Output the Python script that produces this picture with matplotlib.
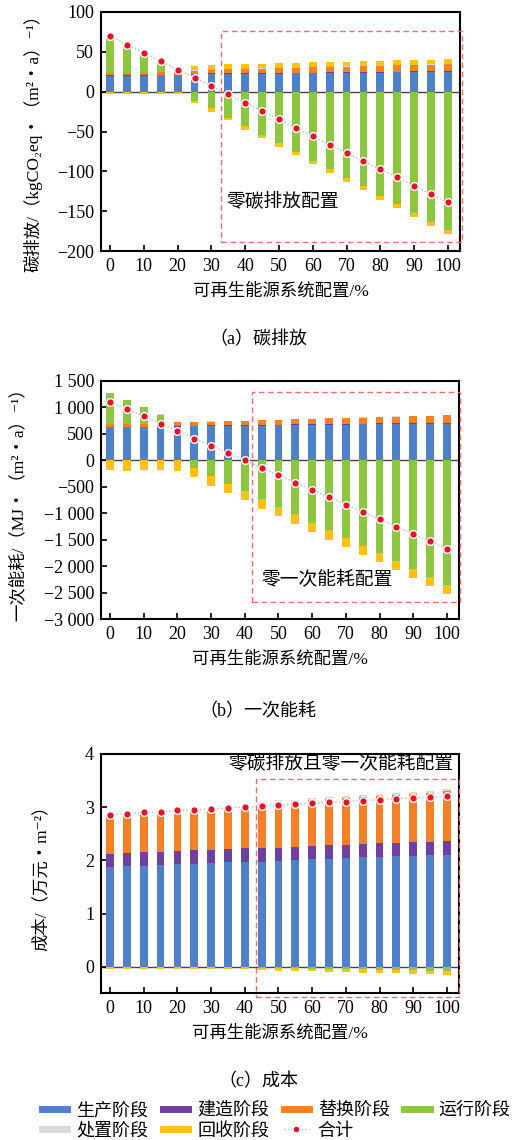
import numpy as np
import matplotlib.pyplot as plt
from matplotlib.lines import Line2D
from matplotlib.patches import Rectangle
from matplotlib.ticker import FuncFormatter

plt.rcParams['font.family'] = ['Liberation Serif', 'Noto Sans CJK SC', 'DejaVu Sans']
plt.rcParams['axes.unicode_minus'] = True

# renewable system share, %
x = [0, 5, 10, 15, 20, 25, 30, 35, 40, 45, 50, 55, 60, 65, 70, 75, 80, 85, 90, 95, 100]

# (a) carbon emission, kgCO2eq/(m2*a)
a_prod = [20, 20, 20, 20.5, 20.5, 21.5, 22, 22, 22.5, 22.5, 22.7, 23, 23, 23.3, 23.5, 23.7, 24, 24.2, 24.4, 24.6, 24.8]
a_build = [1, 1, 1, 1, 1, 1, 1, 1, 1, 1, 1, 1, 1, 1, 1, 1, 1, 1, 1, 1, 1]
a_repl = [3, 3, 3, 3.2, 3.5, 4, 4.5, 5, 5, 5.5, 6, 6, 6.5, 6.5, 7, 7, 7.5, 8, 8, 8.5, 9]
a_oper = [43, 31.5, 22, 11.3, 2, -11.8, -21, -32.8, -43, -53.8, -65, -75.6, -86.5, -97, -108, -119, -130.7, -140.8, -151.7, -163, -174]
a_disp = [0.3, 0.3, 0.3, 0.3, 0.3, 0.3, 0.3, 0.3, 0.3, 0.3, 0.3, 0.3, 0.3, 0.3, 0.3, 0.3, 0.3, 0.3, 0.3, 0.3, 0.3]
a_recy_up = [2, 2, 2, 2, 2, 6, 6, 6, 6, 6, 6, 6, 6, 6, 6, 6, 6, 5.8, 5.6, 5.5, 5.5]
a_recy_dn = [-3.5, -3.5, -3.5, -3.5, -3.5, -2.9, -4, -3.2, -4.5, -4.2, -4, -4.4, -4.2, -5, -5, -5, -5, -5.2, -5.9, -5.5, -5]
a_total = [70, 59, 48.7, 38, 27.7, 17.6, 7, -3.4, -13.9, -24.4, -34.9, -45.4, -55.9, -66.4, -76.9, -87.4, -97.5, -107.6, -118, -128.6, -138.7]

# (b) primary energy, MJ/(m2*a)
b_prod = [620, 620, 620, 625, 625, 640, 645, 648, 650, 655, 658, 662, 665, 668, 672, 675, 678, 682, 685, 688, 692]
b_build = [15, 15, 15, 15, 15, 15, 15, 15, 15, 15, 15, 15, 15, 15, 15, 15, 15, 15, 15, 15, 15]
b_repl = [50, 50, 50, 50, 75, 70, 70, 75, 80, 85, 90, 95, 100, 105, 110, 115, 120, 125, 130, 135, 140]
b_oper = [585, 447, 315, 172, 0, -145, -302, -440, -585, -730, -874, -1019, -1176, -1321, -1466, -1610, -1749, -1900, -2050, -2202, -2346]
b_disp = [3, 3, 3, 3, 3, 3, 3, 3, 3, 3, 3, 3, 3, 3, 3, 3, 3, 3, 3, 3, 3]
b_recy = [-176, -195, -176, -176, -195, -170, -176, -176, -170, -182, -183, -182, -170, -176, -176, -176, -169, -176, -177, -176, -176]
b_total = [1100, 962, 830, 692, 553, 409, 277, 132, 0, -145, -283, -421, -560, -692, -837, -975, -1113, -1252, -1390, -1528, -1667]

# (c) cost, 10^4 CNY/m2
c_prod = [1.875, 1.89, 1.90, 1.91, 1.925, 1.94, 1.95, 1.96, 1.975, 1.975, 1.99, 2.0, 2.02, 2.03, 2.04, 2.056, 2.07, 2.075, 2.09, 2.10, 2.11]
c_build = [0.24, 0.24, 0.25, 0.25, 0.25, 0.25, 0.25, 0.25, 0.25, 0.25, 0.25, 0.25, 0.25, 0.25, 0.25, 0.25, 0.25, 0.25, 0.25, 0.25, 0.25]
c_repl = [0.70, 0.71, 0.72, 0.73, 0.74, 0.75, 0.75, 0.76, 0.77, 0.84, 0.85, 0.85, 0.86, 0.87, 0.88, 0.88, 0.89, 0.90, 0.91, 0.92, 0.94]
c_oper = [0, 0, 0, 0, 0, 0, 0, 0, 0, -0.02, -0.025, -0.03, -0.035, -0.04, -0.045, -0.05, -0.055, -0.06, -0.07, -0.075, -0.085]
c_disp = [0.04, 0.04, 0.04, 0.04, 0.04, 0.04, 0.04, 0.04, 0.04, 0.04, 0.04, 0.04, 0.04, 0.04, 0.04, 0.04, 0.04, 0.04, 0.04, 0.04, 0.04]
c_recy = [-0.04, -0.04, -0.04, -0.04, -0.04, -0.04, -0.04, -0.04, -0.04, -0.05, -0.05, -0.05, -0.055, -0.055, -0.055, -0.06, -0.06, -0.06, -0.06, -0.065, -0.065]
c_total = [2.86, 2.88, 2.90, 2.91, 2.94, 2.95, 2.97, 2.99, 3.0, 3.025, 3.04, 3.056, 3.075, 3.09, 3.106, 3.125, 3.14, 3.16, 3.175, 3.19, 3.21]

labels = ['生产阶段', '建造阶段', '替换阶段', '运行阶段', '处置阶段', '回收阶段', '合计']
c_blue, c_purple, c_orange, c_green = '#4F80CA', '#7040A0', '#F58026', '#8DC63F'
c_gray, c_yellow, c_red = '#D9D9D9', '#FFC20E', '#E8102A'

W, H = 516, 1140
fig = plt.figure(figsize=(W / 100, H / 100), dpi=100)
bw = 2.3
fs = 13


def stack(ax, prod, build, repl, oper, disp, recy_up, recy_dn, total):
    xs = np.array(x, float)
    oper = np.array(oper, float)
    pos = np.zeros(len(xs))
    neg = np.zeros(len(xs))
    for vals, col in [(prod, c_blue), (build, c_purple), (repl, c_orange),
                      (np.clip(oper, 0, None), c_green), (disp, c_gray), (recy_up, c_yellow)]:
        vals = np.array(vals, float)
        ax.bar(xs, vals, bw, bottom=pos, color=col, lw=0, zorder=2)
        pos += vals
    for vals, col in [(np.clip(oper, None, 0), c_green), (recy_dn, c_yellow)]:
        vals = np.array(vals, float)
        ax.bar(xs, vals, bw, bottom=neg, color=col, lw=0, zorder=2)
        neg += vals
    ax.axhline(0, color='#444444', lw=1.0, zorder=1)
    ax.plot(xs, total, ls=(0, (1, 1.5)), color='#BBBBBB', lw=1.0, zorder=3)
    ax.plot(xs, total, 'o', ms=5.5, mfc=c_red, mec='white', mew=1.0, zorder=4)
    ax.set_xlim(-2.7, 103.6)
    ax.set_xticks(range(0, 101, 10))
    ax.tick_params(direction='in', labelsize=fs, length=4, width=1.2, pad=5)
    for s in ax.spines.values():
        s.set_linewidth(1.5)
    ax.set_xlabel('可再生能源系统配置/%', fontsize=12.5, labelpad=6)


def box(ax, x0, y0, x1, y1):
    r = Rectangle((x0, y0), x1 - x0, y1 - y0, fill=False, ec='#F26B6B', ls=(0, (4, 2.5)),
                  lw=1.0, clip_on=False, zorder=5)
    ax.add_patch(r)


# (a)
ax1 = fig.add_axes([101 / W, 1 - 251 / H, 359 / W, 239 / H])
stack(ax1, a_prod, a_build, a_repl, a_oper, a_disp, a_recy_up, a_recy_dn, a_total)
ax1.set_ylim(-200, 100)
ax1.set_yticks([-200, -150, -100, -50, 0, 50, 100])
ax1.set_ylabel('碳排放/（kgCO₂eq・（m²・a）⁻¹）', fontsize=12.5)
ax1.yaxis.set_label_coords(-0.164, 0.47)
box(ax1, 32.8, -189, 104.3, 76.5)
ax1.text(34.5, -138, '零碳排放配置', fontsize=13.5, va='center', ha='left')
fig.text(258 / W, 1 - 340 / H, '（a）碳排放', fontsize=13, ha='center', va='center')

# (b)
ax2 = fig.add_axes([101 / W, 1 - 619.3 / H, 358 / W, 238.6 / H])
stack(ax2, b_prod, b_build, b_repl, b_oper, b_disp, [0] * 21, b_recy, b_total)
ax2.set_ylim(-3000, 1500)
ax2.set_yticks(range(-3000, 1501, 500))
ax2.yaxis.set_major_formatter(FuncFormatter(
    lambda v, p: ('−' if v < 0 else '') + f'{abs(int(v)):,}'.replace(',', ' ')))
ax2.set_ylabel('一次能耗/（MJ・（m²・a）⁻¹）', fontsize=12.5)
ax2.yaxis.set_label_coords(-0.209, 0.5)
box(ax2, 42.2, -2672, 103.8, 1290)
ax2.text(44.8, -2250, '零一次能耗配置', fontsize=13.5, va='center', ha='left')
fig.text(258 / W, 1 - 712 / H, '（b）一次能耗', fontsize=13, ha='center', va='center')

# (c)
ax3 = fig.add_axes([101 / W, 1 - 993.3 / H, 358 / W, 239.3 / H])
stack(ax3, c_prod, c_build, c_repl, c_oper, c_disp, [0] * 21, c_recy, c_total)
ax3.set_ylim(-0.5, 4)
ax3.set_yticks([0, 1, 2, 3, 4])
ax3.set_ylabel('成本/（万元・m⁻²）', fontsize=12.5)
ax3.yaxis.set_label_coords(-0.142, 0.5)
box(ax3, 43.2, -0.576, 103.5, 3.53)
ax3.text(35.2, 3.82, '零碳排放且零一次能耗配置', fontsize=13.5, va='center', ha='left')
fig.text(258 / W, 1 - 1082 / H, '（c）成本', fontsize=13, ha='center', va='center')

handles = [Line2D([], [], color=c, lw=5) for c in [c_blue, c_purple, c_orange, c_green, c_gray, c_yellow]]
handles.append(Line2D([], [], color='#BBBBBB', ls=(0, (1, 1.5)), lw=1.0, marker='o', ms=5,
                      mfc=c_red, mec='white'))
# legend fills column by column: reorder so rows read like the original
order = [0, 4, 1, 5, 2, 6, 3]
fig.legend([handles[i] for i in order], [labels[i] for i in order], loc='upper left',
           bbox_to_anchor=(42 / W, 1 - 1102 / H), ncol=4,
           frameon=False, fontsize=13, handlelength=1.4, handletextpad=0.5, columnspacing=0.8,
           labelspacing=0.2, borderaxespad=0, borderpad=0)

fig.savefig('out.png', dpi=100)
